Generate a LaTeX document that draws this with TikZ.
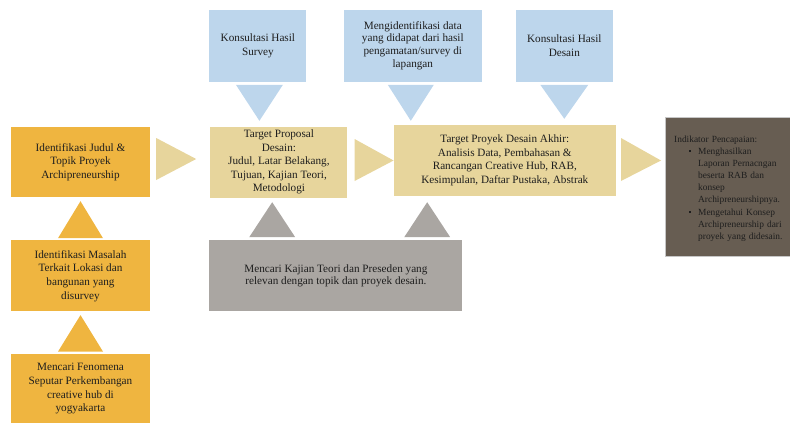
\documentclass[tikz,border=0pt]{standalone}
\usepackage{fontspec}
\setmainfont{Liberation Serif}
\usepackage{tikz}
\usetikzlibrary{positioning}
\usepackage{xcolor}

\definecolor{oranye}{HTML}{EFB540}
\definecolor{krem}{HTML}{E7D59C}
\definecolor{biru}{HTML}{BDD6EC}
\definecolor{abu}{HTML}{AAA6A2}
\definecolor{coklat}{HTML}{675D52}
\definecolor{tinta}{HTML}{1E1E1E}

\newcommand{\butir}[1]{\par\noindent\hspace*{15pt}\makebox[9pt][l]{\raisebox{2.2pt}{\rule{2.2pt}{2.2pt}}}\parbox[t]{130pt}{\raggedright\strut #1\strut}}

\begin{document}
\begin{tikzpicture}[kotak/.style={rectangle, align=center, inner sep=2pt, text=tinta, font=\fontsize{11.2}{13.6}\selectfont},
	oranyebox/.style={kotak, fill=oranye, minimum width=139pt, minimum height=70pt},
	kremboks/.style={kotak, fill=krem, minimum height=71pt},
	biruboks/.style={kotak, fill=biru, minimum height=72pt}]
		\useasboundingbox (0,0) rectangle (790pt,-423pt);
		\clip (0,0) rectangle (790pt,-423pt);
		\node [oranyebox] (idjudul) at (80.5pt,-162pt) {Identifikasi Judul \&\\Topik Proyek\\Archipreneurship};
		\node [oranyebox, minimum height=71pt] (idmasalah) [below=43pt of idjudul] {Identifikasi Masalah\\Terkait Lokasi dan\\bangunan yang\\disurvey};
		\node [oranyebox] (fenomena) [below=42pt of idmasalah] {Mencari Fenomena\\Seputar Perkembangan\\creative hub di\\yogyakarta};
		\node [kremboks, minimum width=137pt] (proposal) [right=60pt of idjudul] {Target Proposal\\Desain:\\Judul, Latar Belakang,\\Tujuan, Kajian Teori,\\Metodologi};
		\node [kremboks, minimum width=222pt] (proyek) [right=46pt of proposal, yshift=1.5pt] {Target Proyek Desain Akhir:\\Analisis Data, Pembahasan \&\\Rancangan Creative Hub, RAB,\\Kesimpulan, Daftar Pustaka, Abstrak};
		\node [rectangle, fill=coklat, draw=gray!45, line width=0.8pt, minimum width=140pt, minimum height=139pt] (indikator) [right=49pt of proyek, yshift=-26pt] {};
		\node [anchor=north west, text width=160pt, align=left, inner sep=0pt, text=tinta, font=\fontsize{9.4}{12}\selectfont] (indteks) at ([xshift=9pt,yshift=-19pt]indikator.north west) {Indikator Pencapaian:\butir{Menghasilkan\\Laporan Pernacngan\\beserta RAB dan\\konsep\\Archipreneurshipnya.}\butir{Mengetahui Konsep\\Archipreneurship dari\\proyek yang didesain.}};
		\node [biruboks, minimum width=97pt] (survey) [above=44.5pt of proposal, xshift=-21pt] {Konsultasi Hasil\\Survey};
		\node [biruboks, minimum width=138pt, font=\fontsize{11.2}{12.8}\selectfont] (datasurvey) [above=43pt of proyek, xshift=-92pt] {Mengidentifikasi data\\yang didapat dari hasil\\pengamatan/survey di\\lapangan};
		\node [biruboks, minimum width=97pt] (desain) [above=43pt of proyek, xshift=59.5pt] {Konsultasi Hasil\\Desain};
		\node [kotak, fill=abu, minimum width=253pt, minimum height=71pt, font=\fontsize{11.2}{12.5}\selectfont] (kajian) [below=42.5pt of proposal, xshift=57pt] {Mencari Kajian Teori dan Preseden yang\\relevan dengan topik dan proyek desain.};
		
		% panah ke kanan
		\fill [krem] ([xshift=6pt,yshift=24pt]idjudul.east) -- ([xshift=6pt,yshift=-18pt]idjudul.east) -- ([xshift=-14pt,yshift=3pt]proposal.west) -- cycle;
		\fill [krem] ([xshift=7pt,yshift=23pt]proposal.east) -- ([xshift=7pt,yshift=-19pt]proposal.east) -- (proyek.west) -- cycle;
		\fill [krem] ([xshift=5pt,yshift=22.5pt]proyek.east) -- ([xshift=5pt,yshift=-20.5pt]proyek.east) -- ([xshift=45pt]proyek.east) -- cycle;
		% panah ke atas
		\fill [oranye] ([xshift=-22.5pt,yshift=2pt]idmasalah.north) -- ([xshift=22.5pt,yshift=2pt]idmasalah.north) -- ([yshift=-4pt]idjudul.south) -- cycle;
		\fill [oranye] ([xshift=-22.5pt,yshift=2pt]fenomena.north) -- ([xshift=22.5pt,yshift=2pt]fenomena.north) -- ([yshift=-3.5pt]idmasalah.south) -- cycle;
		\fill [abu] ([xshift=40pt,yshift=3pt]kajian.north west) -- ([xshift=86pt,yshift=3pt]kajian.north west) -- ([xshift=63pt,yshift=38pt]kajian.north west) -- cycle;
		\fill [abu] ([xshift=195pt,yshift=3pt]kajian.north west) -- ([xshift=241pt,yshift=3pt]kajian.north west) -- ([xshift=218pt,yshift=38pt]kajian.north west) -- cycle;
		% panah ke bawah
		\fill [biru] ([xshift=-22pt,yshift=-3pt]survey.south) -- ([xshift=25pt,yshift=-3pt]survey.south) -- ([xshift=1.5pt,yshift=-39pt]survey.south) -- cycle;
		\fill [biru] ([xshift=-25pt,yshift=-3pt]datasurvey.south) -- ([xshift=21pt,yshift=-3pt]datasurvey.south) -- ([xshift=-2pt,yshift=-39pt]datasurvey.south) -- cycle;
		\fill [biru] ([xshift=-24pt,yshift=-3pt]desain.south) -- ([xshift=24pt,yshift=-3pt]desain.south) -- ([yshift=-37pt]desain.south) -- cycle;
	\end{tikzpicture}
\end{document}
